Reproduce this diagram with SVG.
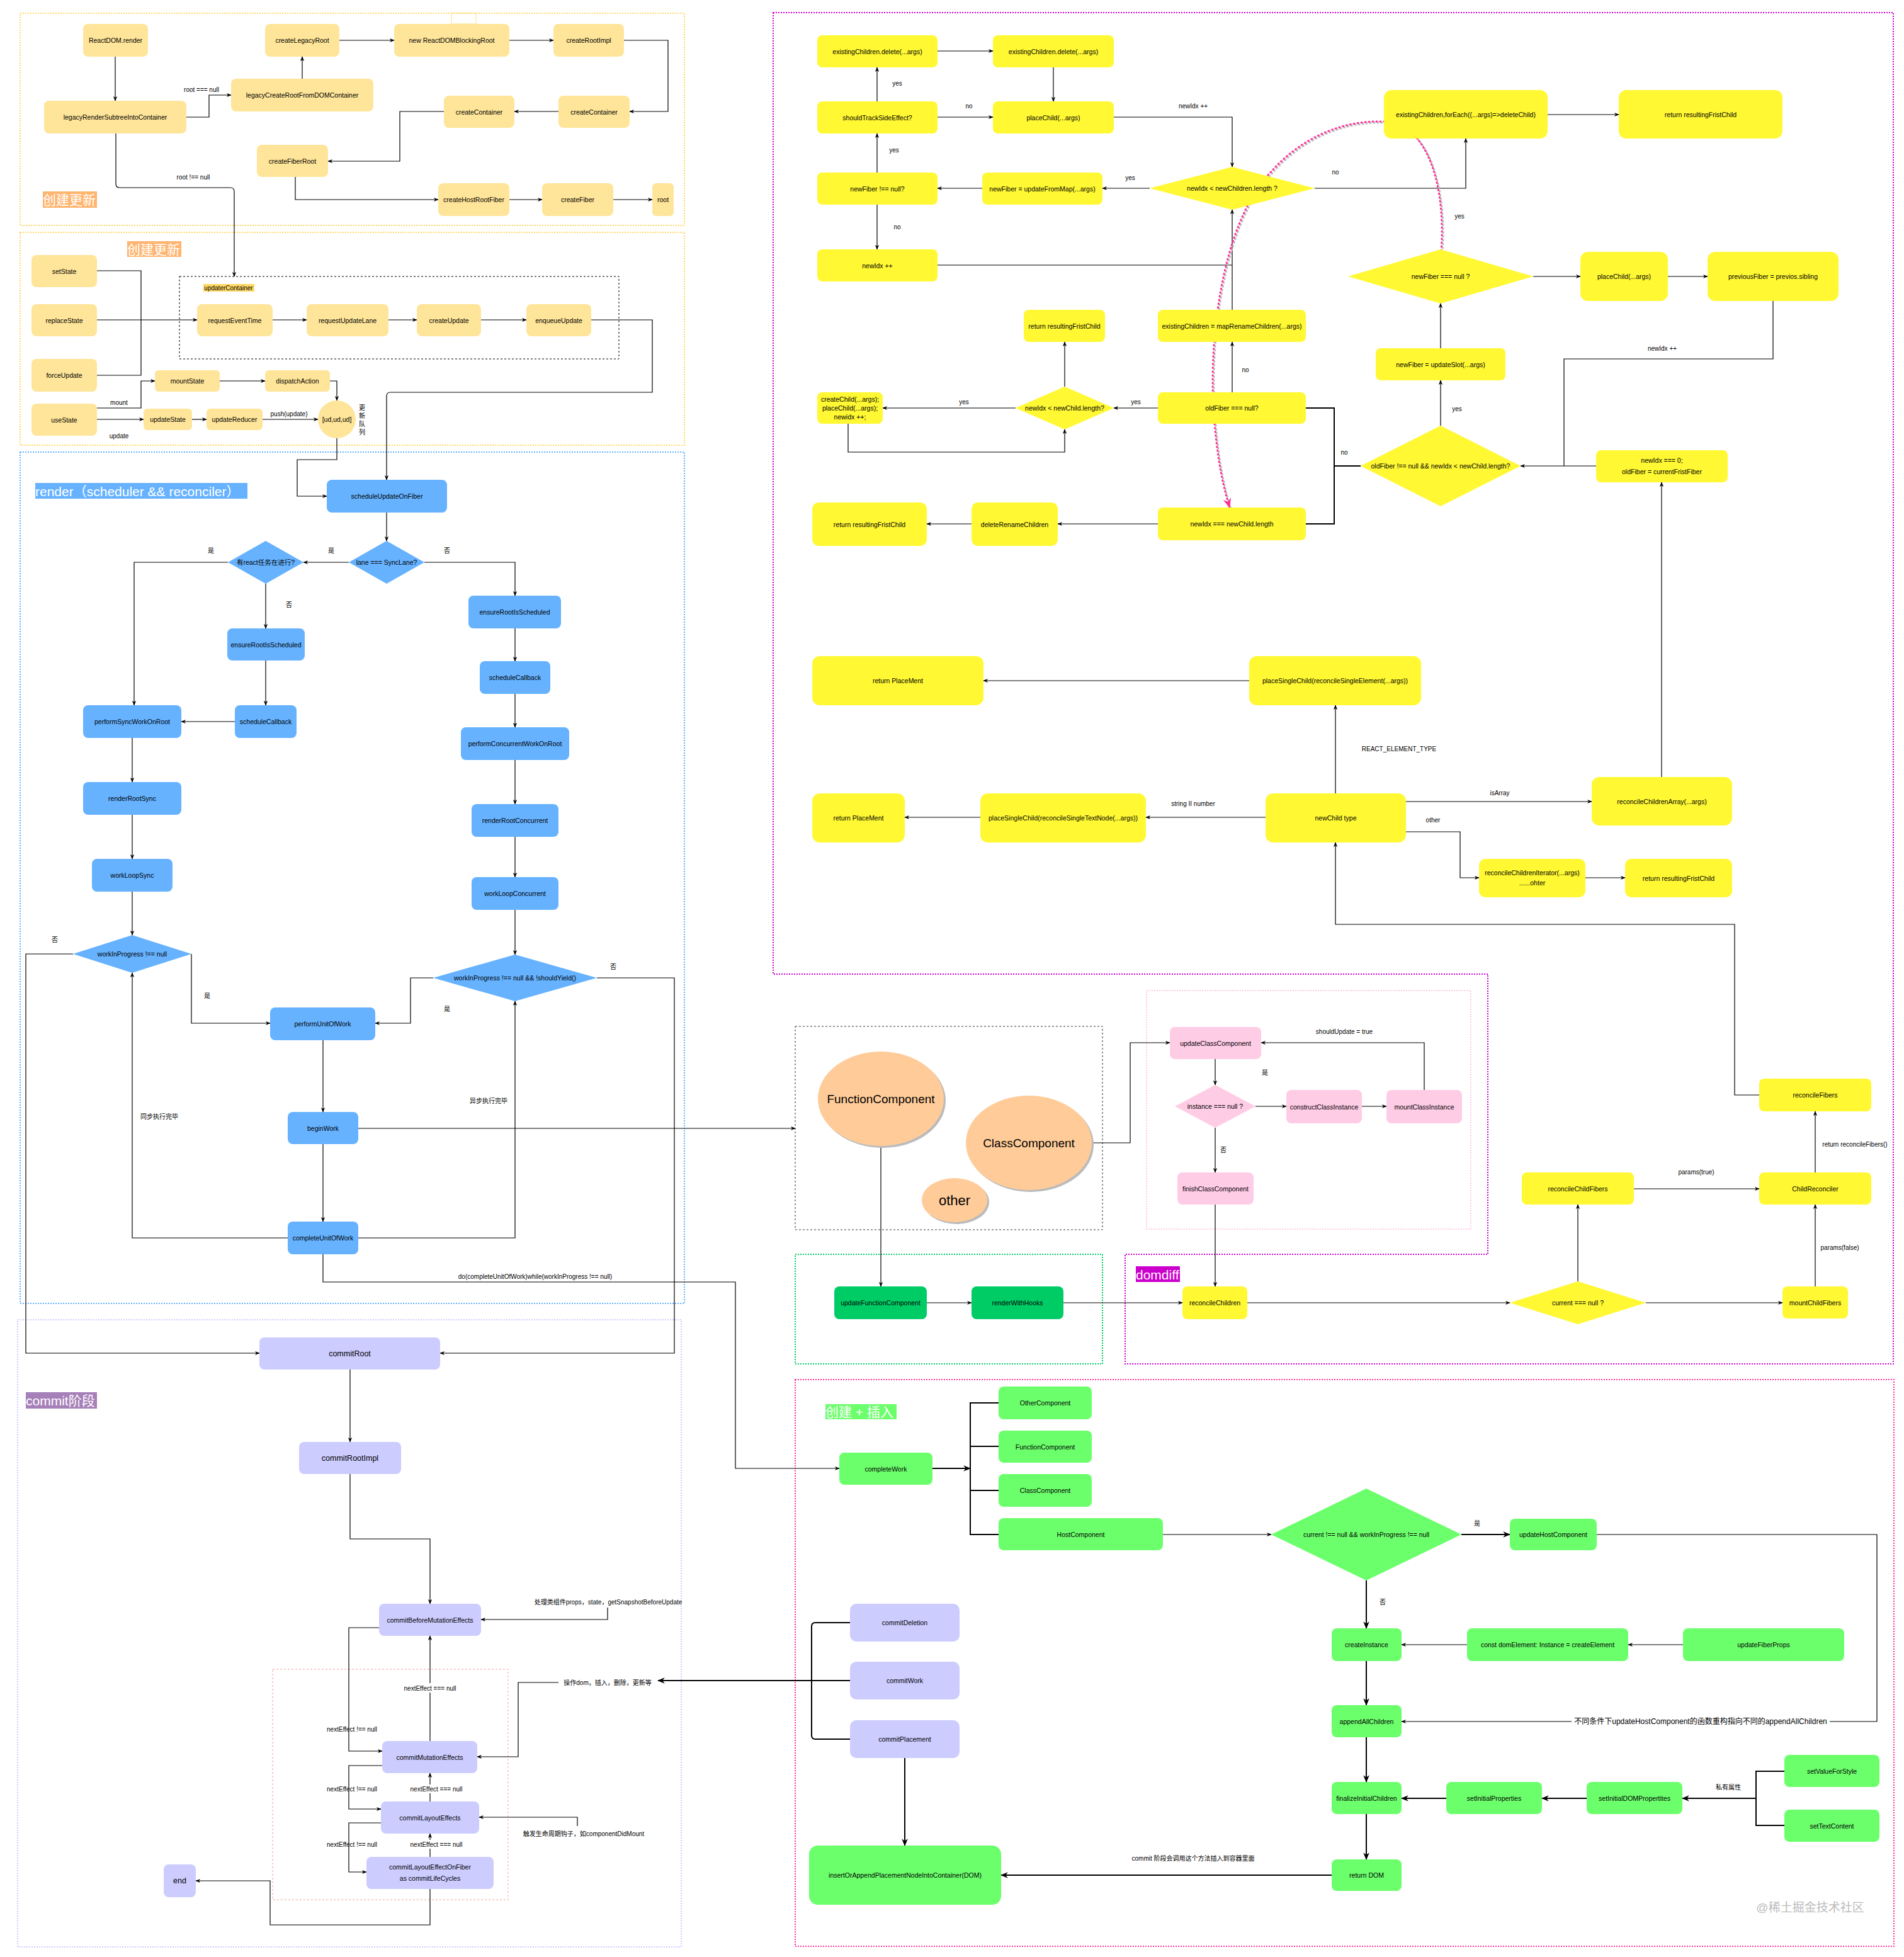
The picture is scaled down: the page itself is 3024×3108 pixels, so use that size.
<svg xmlns="http://www.w3.org/2000/svg" width="3024" height="3108" viewBox="0 0 3024 3108">
<style>
text{font-family:"Liberation Sans","Noto Sans CJK SC",sans-serif;font-size:10.5px;text-anchor:middle;dominant-baseline:central;fill:#000}
.lb{font-size:10px}
.big{font-size:12.5px}
.ttl{font-size:21px;fill:#fff;text-anchor:start}
.c{fill:none;stroke:#000;stroke-width:1.2}
.c2{fill:none;stroke:#000;stroke-width:2}
.y1{fill:#FFE599}
.bl{fill:#66B2FF}
.lv{fill:#CCCCFF}
.yl{fill:#FFF833}
.pk{fill:#FFCCE6}
.gd{fill:#00CC66}
.gl{fill:#6CFF6C}
.or{fill:#FFCC99}
.sh{fill:#BBBBBB}
.box{fill:none;stroke-width:2;stroke-dasharray:2 2}
.wb{fill:#fff}
</style>
<defs>
<marker id="ar" viewBox="0 0 10 10" refX="9" refY="5" markerWidth="8" markerHeight="8" markerUnits="userSpaceOnUse" orient="auto"><path d="M0,1 L10,5 L0,9 L3,5 z" fill="#000"/></marker>
<marker id="ar2" viewBox="0 0 10 10" refX="9" refY="5" markerWidth="12" markerHeight="12" markerUnits="userSpaceOnUse" orient="auto"><path d="M0,1 L10,5 L0,9 L3,5 z" fill="#000"/></marker>
<marker id="arp" viewBox="0 0 10 10" refX="9" refY="5" markerWidth="16" markerHeight="16" markerUnits="userSpaceOnUse" orient="auto"><path d="M0,1 L10,5 L0,9 L3,5 z" fill="#FF3399"/></marker>
</defs>
<rect width="3024" height="3108" fill="#fff"/>

<!-- containers -->
<g id="containers">
<rect class="box" x="32" y="21" width="1055" height="337" stroke="#FFD966"/>
<rect x="717" y="21" width="39" height="17" fill="none" stroke="#FFD966" stroke-width="0.8"/>
<rect class="box" x="32" y="369" width="1055" height="338" stroke="#FFD966"/>
<rect x="285" y="439" width="698" height="131" fill="none" stroke="#000" stroke-width="1" stroke-dasharray="3 3"/>
<rect class="box" x="32" y="718" width="1055" height="1352" stroke="#66B2FF"/>
<rect class="box" x="28" y="2096" width="1054" height="996" stroke="#CCCCFF"/>
<rect x="433" y="2651" width="374" height="366" fill="none" stroke="#F19C99" stroke-width="1" stroke-dasharray="3 3"/>
<path d="M1228,20 H3007 V2166 H1787 V1992 H2363 V1547 H1228 Z" class="box" stroke="#CC00CC" stroke-width="2.5"/>
<rect x="1263" y="1630" width="488" height="323" fill="none" stroke="#333" stroke-width="1" stroke-dasharray="3 3"/>
<rect x="1821" y="1573" width="515" height="379" fill="none" stroke="#FFCCE6" stroke-width="2" stroke-dasharray="2 2"/>
<rect class="box" x="1263" y="1992" width="488" height="174" stroke="#00CC66"/>
<rect class="box" x="1263" y="2191" width="1745" height="900" stroke="#FF3399"/>
</g>

<g id="titles">
<rect x="68" y="304" width="86" height="26" fill="#FFB570"/><text class="ttl" x="68" y="317">创建更新</text>
<rect x="202" y="383" width="86" height="25" fill="#FFB570"/><text class="ttl" x="202" y="396">创建更新</text>
<rect x="56" y="767" width="337" height="25" fill="#66B2FF"/><text class="ttl" x="56" y="780">render（scheduler &amp;&amp; reconciler）</text>
<rect x="41" y="2211" width="113" height="26" fill="#A680B8"/><text class="ttl" x="41" y="2224">commit阶段</text>
<rect x="1804" y="2011" width="70" height="25" fill="#CC00CC"/><text class="ttl" x="1804" y="2024">domdiff</text>
<rect x="1311" y="2230" width="113" height="24" fill="#6CFF6C"/><text class="ttl" x="1311" y="2242">创建 + 插入</text>
<rect x="323" y="451" width="81" height="12" fill="#FFD966"/><text x="363" y="457" class="lb">updaterContainer</text>
</g>

<!-- connectors -->
<g id="connectors">
<path class="c" marker-end="url(#ar)" d="M183,90 V160"/>
<path class="c" marker-end="url(#ar)" d="M296,186 H332 V151 H367"/>
<path class="c" marker-end="url(#ar)" d="M480,125 V90"/>
<path class="c" marker-end="url(#ar)" d="M539,64 H626"/>
<path class="c" marker-end="url(#ar)" d="M809,64 H879"/>
<path class="c" marker-end="url(#ar)" d="M991,64 H1061 V177 H1000"/>
<path class="c" marker-end="url(#ar)" d="M887,177 H817"/>
<path class="c" marker-end="url(#ar)" d="M705,177 H635 V256 H521"/>
<path class="c" marker-end="url(#ar)" d="M469,281 V317 H696"/>
<path class="c" marker-end="url(#ar)" d="M809,317 H861"/>
<path class="c" marker-end="url(#ar)" d="M974,317 H1036"/>
<path class="c" marker-end="url(#ar)" d="M184,212 V292 Q184,298 190,298 H366 Q372,298 372,304 V439"/>
<path class="c" d="M154,430 H224 V596 H154"/>
<path class="c" marker-end="url(#ar)" d="M154,508 H313"/>
<path class="c" marker-end="url(#ar)" d="M433,508 H487"/>
<path class="c" marker-end="url(#ar)" d="M617,508 H662"/>
<path class="c" marker-end="url(#ar)" d="M764,508 H836"/>
<path class="c" marker-end="url(#ar)" d="M939,508 H1036 V623 H620 Q614,623 614,629 V762"/>
<path class="c" marker-end="url(#ar)" d="M154,648 H224 V605 H246"/>
<path class="c" marker-end="url(#ar)" d="M154,666 H228"/>
<path class="c" marker-end="url(#ar)" d="M349,605 H421"/>
<path class="c" marker-end="url(#ar)" d="M524,605 H535 V636"/>
<path class="c" marker-end="url(#ar)" d="M305,666 H328"/>
<path class="c" marker-end="url(#ar)" d="M417,666 H505"/>
<path class="c" marker-end="url(#ar)" d="M535,696 V730 H472 V788 H519"/>
<path class="c" marker-end="url(#ar)" d="M614,814 V859"/>
<path class="c" marker-end="url(#ar)" d="M554,893 H482"/>
<path class="c" marker-end="url(#ar)" d="M362,893 H213 V1120"/>
<path class="c" marker-end="url(#ar)" d="M422,927 V998"/>
<path class="c" marker-end="url(#ar)" d="M422,1049 V1120"/>
<path class="c" marker-end="url(#ar)" d="M373,1146 H288"/>
<path class="c" marker-end="url(#ar)" d="M210,1172 V1242"/>
<path class="c" marker-end="url(#ar)" d="M210,1294 V1364"/>
<path class="c" marker-end="url(#ar)" d="M210,1416 V1485"/>
<path class="c" marker-end="url(#ar)" d="M674,893 H818 V946"/>
<path class="c" marker-end="url(#ar)" d="M818,998 V1050"/>
<path class="c" marker-end="url(#ar)" d="M818,1102 V1155"/>
<path class="c" marker-end="url(#ar)" d="M818,1207 V1277"/>
<path class="c" marker-end="url(#ar)" d="M818,1329 V1393"/>
<path class="c" marker-end="url(#ar)" d="M818,1445 V1516"/>
<path class="c" marker-end="url(#ar)" d="M304,1515 V1625 H429"/>
<path class="c" marker-end="url(#ar)" d="M688,1553 H652 V1625 H596"/>
<path class="c" marker-end="url(#ar)" d="M513,1652 V1766"/>
<path class="c" marker-end="url(#ar)" d="M513,1817 V1940"/>
<path class="c" marker-end="url(#ar)" d="M457,1966 H210 V1545"/>
<path class="c" marker-end="url(#ar)" d="M569,1966 H818 V1590"/>
<path class="c" marker-end="url(#ar)" d="M116,1515 H41 V2149 H412"/>
<path class="c" marker-end="url(#ar)" d="M948,1553 H1071 V2149 H699"/>
<path class="c" marker-end="url(#ar)" d="M569,1792 H1263"/>
<path class="c" marker-end="url(#ar)" d="M513,1992 V2036 H1168 V2332 H1333"/>
<path class="c" marker-end="url(#ar)" d="M556,2175 V2290"/>
<path class="c" marker-end="url(#ar)" d="M556,2341 V2444 H683 V2547"/>
<path class="c" marker-end="url(#ar)" d="M683,2765 V2598"/>
<path class="c" marker-end="url(#ar)" d="M602,2585 H554 V2781 H607"/>
<path class="c" marker-end="url(#ar)" d="M607,2804 H554 V2873 H605"/>
<path class="c" marker-end="url(#ar)" d="M683,2861 V2816"/>
<path class="c" marker-end="url(#ar)" d="M605,2895 H554 V2973 H582"/>
<path class="c" marker-end="url(#ar)" d="M683,2949 V2912"/>
<path class="c" marker-end="url(#ar)" d="M683,3000 V3057 H429 V2987 H311"/>
<path class="c" marker-end="url(#ar)" d="M965,2553 V2572 H764"/>
<path class="c" marker-end="url(#ar)" d="M887,2672 H823 V2790 H758"/>
<path class="c" marker-end="url(#ar)" d="M917,2900 V2886 H761"/>
<path class="c2" marker-end="url(#ar2)" d="M1350,2669 H1045"/>
<path class="c2" d="M1350,2577 H1295 Q1289,2577 1289,2583 V2756 Q1289,2762 1295,2762 H1350"/>
<path class="c2" marker-end="url(#ar2)" d="M1437,2792 V2931"/>

<path class="c" marker-end="url(#ar)" d="M1393,161 V107"/>
<path class="c" marker-end="url(#ar)" d="M1489,81 H1577"/>
<path class="c" marker-end="url(#ar)" d="M1673,107 V161"/>
<path class="c" marker-end="url(#ar)" d="M1489,186 H1577"/>
<path class="c" marker-end="url(#ar)" d="M1769,186 H1957 V265"/>
<path class="c" marker-end="url(#ar)" d="M1826,299 H1751"/>
<path class="c" marker-end="url(#ar)" d="M1560,299 H1489"/>
<path class="c" marker-end="url(#ar)" d="M1393,274 V212"/>
<path class="c" marker-end="url(#ar)" d="M1393,325 V396"/>
<path class="c" d="M1489,421 H1957"/>
<path class="c" marker-end="url(#ar)" d="M1957,492 V333"/>
<path class="c" marker-end="url(#ar)" d="M1957,623 V543"/>
<path class="c" marker-end="url(#ar)" d="M1839,648 H1769"/>
<path class="c" marker-end="url(#ar)" d="M1613,648 H1402"/>
<path class="c" marker-end="url(#ar)" d="M1347,673 V718 H1691 V682"/>
<path class="c" marker-end="url(#ar)" d="M1691,614 V543"/>
<path class="c" marker-end="url(#ar)" d="M1839,832 H1680"/>
<path class="c" marker-end="url(#ar)" d="M1543,832 H1472"/>
<path class="c2" d="M2074,648 H2119 V832 H2074 M2119,740 H2161"/>
<path class="c" marker-end="url(#ar)" d="M2088,299 H2328 V220"/>
<path class="c" marker-end="url(#ar)" d="M2458,182 H2571"/>
<path class="c" marker-end="url(#ar)" d="M2435,439 H2510"/>
<path class="c" marker-end="url(#ar)" d="M2649,439 H2712"/>
<path class="c" d="M2816,478 V570 H2484 V740"/>
<path class="c" marker-end="url(#ar)" d="M2535,740 H2415"/>
<path class="c" marker-end="url(#ar)" d="M2288,553 V482"/>
<path class="c" marker-end="url(#ar)" d="M2288,676 V604"/>
<path class="c" marker-end="url(#ar)" d="M2639,1234 V766"/>
<path d="M2291,400 C2298,302 2272,197 2199,195 C2112,192 2032,242 1987,322 C1937,412 1922,562 1930,662 C1936,742 1947,782 1955,808" fill="none" stroke="#BBBBBB" stroke-width="3" stroke-dasharray="1 5" stroke-linecap="round"/>
<path d="M2289,398 C2296,300 2270,195 2197,193 C2110,190 2030,240 1985,320 C1935,410 1920,560 1928,660 C1934,740 1945,780 1953,806" fill="none" stroke="#FF3399" stroke-width="3" stroke-dasharray="1 5" stroke-linecap="round" marker-end="url(#arp)"/>

<path class="c" marker-end="url(#ar)" d="M1984,1081 H1562"/>
<path class="c" marker-end="url(#ar)" d="M2121,1260 V1120"/>
<path class="c" marker-end="url(#ar)" d="M2010,1298 H1820"/>
<path class="c" marker-end="url(#ar)" d="M1557,1298 H1437"/>
<path class="c" marker-end="url(#ar)" d="M2233,1273 H2528"/>
<path class="c" marker-end="url(#ar)" d="M2233,1321 H2319 V1394 H2349"/>
<path class="c" marker-end="url(#ar)" d="M2518,1394 H2581"/>
<path class="c" marker-end="url(#ar)" d="M2794,1739 H2755 V1468 H2121 V1338"/>

<path class="c" marker-end="url(#ar)" d="M1734,1815 H1795 V1656 H1858"/>
<path class="c" marker-end="url(#ar)" d="M1930,1682 V1723"/>
<path class="c" marker-end="url(#ar)" d="M1994,1757 H2043"/>
<path class="c" marker-end="url(#ar)" d="M2163,1757 H2202"/>
<path class="c" marker-end="url(#ar)" d="M2262,1731 V1656 H2003"/>
<path class="c" marker-end="url(#ar)" d="M1930,1791 V1862"/>
<path class="c" marker-end="url(#ar)" d="M1930,1913 V2043"/>
<path class="c" marker-end="url(#ar)" d="M1399,1820 V2043"/>
<path class="c" marker-end="url(#ar)" d="M1472,2069 H1543"/>
<path class="c" marker-end="url(#ar)" d="M1689,2069 H1878"/>
<path class="c" marker-end="url(#ar)" d="M1981,2069 H2398"/>
<path class="c" marker-end="url(#ar)" d="M2614,2069 H2831"/>
<path class="c" marker-end="url(#ar)" d="M2506,2035 V1913"/>
<path class="c" marker-end="url(#ar)" d="M2595,1888 H2794"/>
<path class="c" marker-end="url(#ar)" d="M2883,2043 V1913"/>
<path class="c" marker-end="url(#ar)" d="M2883,1862 V1765"/>

<path class="c2" marker-end="url(#ar2)" d="M1481,2332 H1541"/>
<path class="c2" d="M1586,2228 H1541 V2437 H1586 M1541,2297 H1586 M1541,2367 H1586"/>
<path class="c" marker-end="url(#ar)" d="M1847,2437 H2019"/>
<path class="c2" marker-end="url(#ar2)" d="M2321,2437 H2398"/>
<path class="c2" marker-end="url(#ar2)" d="M2170,2510 V2586"/>
<path class="c" marker-end="url(#ar)" d="M2330,2612 H2226"/>
<path class="c" marker-end="url(#ar)" d="M2673,2612 H2586"/>
<path class="c" marker-end="url(#ar)" d="M2536,2437 H2981 V2734 H2226"/>
<path class="c2" marker-end="url(#ar2)" d="M2170,2638 V2708"/>
<path class="c2" marker-end="url(#ar2)" d="M2170,2759 V2830"/>
<path class="c2" marker-end="url(#ar2)" d="M2170,2881 V2953"/>
<path class="c2" marker-end="url(#ar2)" d="M2297,2856 H2226"/>
<path class="c2" marker-end="url(#ar2)" d="M2520,2856 H2449"/>
<path class="c2" d="M2834,2813 H2789 V2899 H2834"/>
<path class="c2" marker-end="url(#ar2)" d="M2789,2856 H2672"/>
<path class="c2" marker-end="url(#ar2)" d="M2115,2978 H1590"/>
</g>

<g id="edge-labels">
<text class="lb" x="320" y="142">root === null</text>
<text class="lb" x="307" y="281">root !== null</text>
<text class="lb" x="189" y="639">mount</text>
<text class="lb" x="189" y="692">update</text>
<text class="lb" x="459" y="657">push(update)</text>
<text class="lb" x="575" y="647">更</text><text class="lb" x="575" y="660">新</text><text class="lb" x="575" y="673">队</text><text class="lb" x="575" y="686">列</text>
<text class="lb" x="335" y="874">是</text>
<text class="lb" x="526" y="874">是</text>
<text class="lb" x="710" y="874">否</text>
<text class="lb" x="459" y="960">否</text>
<text class="lb" x="87" y="1492">否</text>
<text class="lb" x="329" y="1581">是</text>
<text class="lb" x="710" y="1602">是</text>
<text class="lb" x="974" y="1535">否</text>
<text class="lb" x="253" y="1773">同步执行完毕</text>
<text class="lb" x="776" y="1748">异步执行完毕</text>
<text class="lb" x="850" y="2027">do(completeUnitOfWork)while(workInProgress !== null)</text>
<rect class="wb" x="640" y="2673" width="86" height="15"/><text class="lb" x="683" y="2681">nextEffect === null</text>
<text class="lb" x="559" y="2746">nextEffect !== null</text>
<text class="lb" x="559" y="2841">nextEffect !== null</text>
<rect class="wb" x="650" y="2834" width="86" height="14"/><text class="lb" x="693" y="2841">nextEffect === null</text>
<text class="lb" x="559" y="2929">nextEffect !== null</text>
<rect class="wb" x="650" y="2922" width="86" height="14"/><text class="lb" x="693" y="2929">nextEffect === null</text>
<text class="lb" x="966" y="2544">处理类组件props，state，getSnapshotBeforeUpdate</text>
<text class="lb" x="965" y="2672">操作dom，插入，删除，更新等</text>
<text class="lb" x="927" y="2912">触发生命周期钩子，如componentDidMount</text>
<text class="lb" x="1425" y="132">yes</text>
<text class="lb" x="1539" y="168">no</text>
<text class="lb" x="1895" y="168">newIdx ++</text>
<text class="lb" x="1420" y="238">yes</text>
<text class="lb" x="1795" y="282">yes</text>
<text class="lb" x="2121" y="273">no</text>
<text class="lb" x="1425" y="360">no</text>
<text class="lb" x="1978" y="587">no</text>
<text class="lb" x="1531" y="638">yes</text>
<text class="lb" x="1804" y="638">yes</text>
<text class="lb" x="2135" y="718">no</text>
<text class="lb" x="2318" y="343">yes</text>
<text class="lb" x="2314" y="649">yes</text>
<text class="lb" x="2640" y="553">newIdx ++</text>
<text class="lb" x="2222" y="1189">REACT_ELEMENT_TYPE</text>
<text class="lb" x="1895" y="1276">string II number</text>
<text class="lb" x="2382" y="1259">isArray</text>
<text class="lb" x="2276" y="1302">other</text>
<text class="lb" x="2135" y="1638">shouldUpdate = true</text>
<text class="lb" x="2009" y="1703">是</text>
<text class="lb" x="1943" y="1826">否</text>
<text class="lb" x="2694" y="1861">params(true)</text>
<text class="lb" x="2922" y="1981">params(false)</text>
<text class="lb" x="2946" y="1817">return reconcileFibers()</text>
<text class="lb" x="2346" y="2419">是</text>
<text class="lb" x="2196" y="2544">否</text>
<text class="lb" x="2745" y="2838">私有属性</text>
<rect class="wb" x="2496" y="2726" width="410" height="16"/><text x="2701" y="2734" style="font-size:12px">不同条件下updateHostComponent的函数重构指向不同的appendAllChildren</text>
<text class="lb" x="1895" y="2951">commit 阶段会调用这个方法插入到容器里面</text>
<text x="2875" y="3029" style="font-size:19px;fill:#BBBBBB">@稀土掘金技术社区</text>
</g>

<!-- section A nodes -->
<g id="n-reactdom-render"><rect class="y1" x="132" y="38" width="103" height="52" rx="8"/><text x="183.5" y="64">ReactDOM.render</text></g>
<g id="n-createLegacyRoot"><rect class="y1" x="421" y="38" width="118" height="52" rx="8"/><text x="480" y="64">createLegacyRoot</text></g>
<g id="n-ReactDOMBlockingRoot"><rect class="y1" x="626" y="38" width="183" height="52" rx="8"/><text x="717.5" y="64">new ReactDOMBlockingRoot</text></g>
<g id="n-createRootImpl"><rect class="y1" x="879" y="38" width="112" height="52" rx="8"/><text x="935" y="64">createRootImpl</text></g>
<g id="n-legacyCreateRoot"><rect class="y1" x="367" y="125" width="226" height="52" rx="8"/><text x="480" y="151">legacyCreateRootFromDOMContainer</text></g>
<g id="n-legacyRender"><rect class="y1" x="70" y="160" width="226" height="52" rx="8"/><text x="183" y="186">legacyRenderSubtreeIntoContainer</text></g>
<g id="n-createContainer-l"><rect class="y1" x="705" y="152" width="112" height="51" rx="8"/><text x="761" y="177.5">createContainer</text></g>
<g id="n-createContainer-r"><rect class="y1" x="887" y="152" width="113" height="51" rx="8"/><text x="943.5" y="177.5">createContainer</text></g>
<g id="n-createFiberRoot"><rect class="y1" x="408" y="230" width="113" height="51" rx="8"/><text x="464.5" y="255.5">createFiberRoot</text></g>
<g id="n-createHostRootFiber"><rect class="y1" x="696" y="291" width="113" height="52" rx="8"/><text x="752.5" y="317">createHostRootFiber</text></g>
<g id="n-createFiber"><rect class="y1" x="861" y="291" width="113" height="52" rx="8"/><text x="917.5" y="317">createFiber</text></g>
<g id="n-root"><rect class="y1" x="1036" y="291" width="34" height="52" rx="6"/><text x="1053" y="317">root</text></g>

<!-- section B nodes -->
<g id="n-setState"><rect class="y1" x="50" y="405" width="104" height="51" rx="8"/><text x="102" y="430.5">setState</text></g>
<g id="n-replaceState"><rect class="y1" x="50" y="483" width="104" height="51" rx="8"/><text x="102" y="508.5">replaceState</text></g>
<g id="n-forceUpdate"><rect class="y1" x="50" y="570" width="104" height="52" rx="8"/><text x="102" y="596">forceUpdate</text></g>
<g id="n-useState"><rect class="y1" x="50" y="641" width="104" height="51" rx="8"/><text x="102" y="666.5">useState</text></g>
<g id="n-requestEventTime"><rect class="y1" x="313" y="483" width="120" height="51" rx="8"/><text x="373" y="508.5">requestEventTime</text></g>
<g id="n-requestUpdateLane"><rect class="y1" x="487" y="483" width="130" height="51" rx="8"/><text x="552" y="508.5">requestUpdateLane</text></g>
<g id="n-createUpdate"><rect class="y1" x="662" y="483" width="102" height="51" rx="8"/><text x="713" y="508.5">createUpdate</text></g>
<g id="n-enqueueUpdate"><rect class="y1" x="836" y="483" width="103" height="51" rx="8"/><text x="887.5" y="508.5">enqueueUpdate</text></g>
<g id="n-mountState"><rect class="y1" x="246" y="588" width="103" height="34" rx="6"/><text x="297.5" y="605">mountState</text></g>
<g id="n-dispatchAction"><rect class="y1" x="421" y="588" width="103" height="34" rx="6"/><text x="472.5" y="605">dispatchAction</text></g>
<g id="n-updateState"><rect class="y1" x="228" y="649" width="77" height="34" rx="6"/><text x="266.5" y="666">updateState</text></g>
<g id="n-updateReducer"><rect class="y1" x="328" y="649" width="89" height="34" rx="6"/><text x="372.5" y="666">updateReducer</text></g>
<g id="n-queue"><ellipse class="y1" cx="535" cy="666" rx="30" ry="30"/><text x="535" y="666">[ud,ud,ud]</text></g>

<!-- render nodes -->
<g id="n-scheduleUpdateOnFiber"><rect class="bl" x="519" y="762" width="191" height="52" rx="8"/><text x="614.5" y="788">scheduleUpdateOnFiber</text></g>
<g id="n-syncLane"><polygon class="bl" points="614,859 674,893 614,927 554,893"/><text x="614" y="893">lane === SyncLane?</text></g>
<g id="n-reactRunning"><polygon class="bl" points="422,859 482,893 422,927 362,893"/><text x="422" y="893">有react任务在进行?</text></g>
<g id="n-ensureRoot-l"><rect class="bl" x="361" y="998" width="123" height="51" rx="8"/><text x="422.5" y="1023.5">ensureRootIsScheduled</text></g>
<g id="n-scheduleCallback-l"><rect class="bl" x="373" y="1120" width="98" height="52" rx="8"/><text x="422" y="1146">scheduleCallback</text></g>
<g id="n-performSync"><rect class="bl" x="132" y="1120" width="156" height="52" rx="8"/><text x="210" y="1146">performSyncWorkOnRoot</text></g>
<g id="n-renderRootSync"><rect class="bl" x="132" y="1242" width="156" height="52" rx="8"/><text x="210" y="1268">renderRootSync</text></g>
<g id="n-workLoopSync"><rect class="bl" x="146" y="1364" width="128" height="52" rx="8"/><text x="210" y="1390">workLoopSync</text></g>
<g id="n-ensureRoot-r"><rect class="bl" x="744" y="946" width="147" height="52" rx="8"/><text x="817.5" y="972">ensureRootIsScheduled</text></g>
<g id="n-scheduleCallback-r"><rect class="bl" x="762" y="1050" width="112" height="52" rx="8"/><text x="818" y="1076">scheduleCallback</text></g>
<g id="n-performConcurrent"><rect class="bl" x="732" y="1155" width="172" height="52" rx="8"/><text x="818" y="1181">performConcurrentWorkOnRoot</text></g>
<g id="n-renderRootConcurrent"><rect class="bl" x="749" y="1277" width="138" height="52" rx="8"/><text x="818" y="1303">renderRootConcurrent</text></g>
<g id="n-workLoopConcurrent"><rect class="bl" x="749" y="1393" width="138" height="52" rx="8"/><text x="818" y="1419">workLoopConcurrent</text></g>
<g id="n-wipSync"><polygon class="bl" points="210,1485 304,1515 210,1545 116,1515"/><text x="210" y="1515">workInProgress !== null</text></g>
<g id="n-wipConcurrent"><polygon class="bl" points="818,1516 948,1553 818,1590 688,1553"/><text x="818" y="1553">workInProgress !== null &amp;&amp; !shouldYield()</text></g>
<g id="n-performUnitOfWork"><rect class="bl" x="429" y="1600" width="167" height="52" rx="8"/><text x="512.5" y="1626">performUnitOfWork</text></g>
<g id="n-beginWork"><rect class="bl" x="457" y="1766" width="112" height="51" rx="8"/><text x="513" y="1791.5">beginWork</text></g>
<g id="n-completeUnitOfWork"><rect class="bl" x="457" y="1940" width="112" height="52" rx="8"/><text x="513" y="1966">completeUnitOfWork</text></g>

<!-- commit nodes -->
<g id="n-commitRoot"><rect class="lv" x="412" y="2124" width="287" height="51" rx="8"/><text class="big" x="555.5" y="2149.5">commitRoot</text></g>
<g id="n-commitRootImpl"><rect class="lv" x="475" y="2290" width="162" height="51" rx="8"/><text class="big" x="556" y="2315.5">commitRootImpl</text></g>
<g id="n-commitBeforeMutation"><rect class="lv" x="602" y="2547" width="162" height="51" rx="8"/><text x="683" y="2572.5">commitBeforeMutationEffects</text></g>
<g id="n-commitMutation"><rect class="lv" x="607" y="2765" width="151" height="51" rx="8"/><text x="682.5" y="2790.5">commitMutationEffects</text></g>
<g id="n-commitLayout"><rect class="lv" x="605" y="2861" width="156" height="51" rx="8"/><text x="683" y="2886.5">commitLayoutEffects</text></g>
<g id="n-commitLayoutOnFiber"><rect class="lv" x="582" y="2949" width="202" height="51" rx="8"/><text x="683" y="2965">commitLayoutEffectOnFiber</text><text x="683" y="2983">as commitLifeCycles</text></g>
<g id="n-end"><rect class="lv" x="260" y="2961" width="51" height="52" rx="8"/><text class="big" x="285.5" y="2987">end</text></g>

<!-- reconcile array nodes -->
<g id="n-delete1"><rect class="yl" x="1298" y="56" width="191" height="51" rx="8"/><text x="1393.5" y="81.5">existingChildren.delete(...args)</text></g>
<g id="n-delete2"><rect class="yl" x="1577" y="56" width="192" height="51" rx="8"/><text x="1673" y="81.5">existingChildren.delete(...args)</text></g>
<g id="n-shouldTrack"><rect class="yl" x="1298" y="161" width="191" height="51" rx="8"/><text x="1393.5" y="186.5">shouldTrackSideEffect?</text></g>
<g id="n-placeChild1"><rect class="yl" x="1577" y="161" width="192" height="51" rx="8"/><text x="1673" y="186.5">placeChild(...args)</text></g>
<g id="n-newFiberNotNull"><rect class="yl" x="1298" y="274" width="191" height="51" rx="8"/><text x="1393.5" y="299.5">newFiber !== null?</text></g>
<g id="n-updateFromMap"><rect class="yl" x="1560" y="274" width="191" height="51" rx="8"/><text x="1655.5" y="299.5">newFiber = updateFromMap(...args)</text></g>
<g id="n-newIdxLtChildren"><polygon class="yl" points="1957,265 2088,299 1957,333 1826,299"/><text x="1957" y="299">newIdx &lt; newChildren.length ?</text></g>
<g id="n-newIdxInc"><rect class="yl" x="1298" y="396" width="191" height="51" rx="8"/><text x="1393.5" y="421.5">newIdx ++</text></g>
<g id="n-return1"><rect class="yl" x="1626" y="492" width="129" height="51" rx="8"/><text x="1690.5" y="517.5">return resultingFristChild</text></g>
<g id="n-mapRename"><rect class="yl" x="1839" y="492" width="235" height="51" rx="8"/><text x="1956.5" y="517.5">existingChildren = mapRenameChildren(...args)</text></g>
<g id="n-createChild"><rect class="yl" x="1298" y="623" width="104" height="50" rx="8"/><text x="1350" y="634">createChild(...args);</text><text x="1350" y="648">placeChild(...args);</text><text x="1350" y="662">newidx ++;</text></g>
<g id="n-newIdxLtChild"><polygon class="yl" points="1691,614 1769,648 1691,682 1613,648"/><text x="1691" y="648">newIdx &lt; newChild.length?</text></g>
<g id="n-oldFiberNull"><rect class="yl" x="1839" y="623" width="235" height="50" rx="8"/><text x="1956.5" y="648">oldFiber === null?</text></g>
<g id="n-return2"><rect class="yl" x="1290" y="798" width="182" height="69" rx="10"/><text x="1381" y="832.5">return resultingFristChild</text></g>
<g id="n-deleteRename"><rect class="yl" x="1543" y="798" width="137" height="69" rx="10"/><text x="1611.5" y="832.5">deleteRenameChildren</text></g>
<g id="n-newIdxEq"><rect class="yl" x="1839" y="806" width="235" height="52" rx="8"/><text x="1956.5" y="832">newIdx === newChild.length</text></g>
<g id="n-forEachDelete"><rect class="yl" x="2198" y="143" width="260" height="77" rx="12"/><text x="2328" y="181.5">existingChildren,forEach((...args)=&gt;deleteChild)</text></g>
<g id="n-return3"><rect class="yl" x="2571" y="143" width="260" height="77" rx="12"/><text x="2701" y="181.5">return resultingFristChild</text></g>
<g id="n-newFiberNull"><polygon class="yl" points="2288,396 2435,439 2288,482 2141,439"/><text x="2288" y="439">newFiber === null ?</text></g>
<g id="n-placeChild2"><rect class="yl" x="2510" y="400" width="139" height="78" rx="12"/><text x="2579.5" y="439">placeChild(...args)</text></g>
<g id="n-previousFiber"><rect class="yl" x="2712" y="400" width="208" height="78" rx="12"/><text x="2816" y="439">previousFiber = previos.sibling</text></g>
<g id="n-updateSlot"><rect class="yl" x="2185" y="553" width="206" height="51" rx="8"/><text x="2288" y="578.5">newFiber = updateSlot(...args)</text></g>
<g id="n-oldFiberNotNull"><polygon class="yl" points="2288,676 2415,740 2288,804 2161,740"/><text x="2288" y="740">oldFiber !== null &amp;&amp; newIdx &lt; newChild.length?</text></g>
<g id="n-newIdxZero"><rect class="yl" x="2535" y="715" width="209" height="51" rx="8"/><text x="2639.5" y="731">newIdx === 0;</text><text x="2639.5" y="749">oldFiber = currentFristFiber</text></g>

<!-- newChild type nodes -->
<g id="n-returnPlacement1"><rect class="yl" x="1290" y="1042" width="272" height="78" rx="12"/><text x="1426" y="1081">return PlaceMent</text></g>
<g id="n-singleElement"><rect class="yl" x="1984" y="1042" width="273" height="78" rx="12"/><text x="2120.5" y="1081">placeSingleChild(reconcileSingleElement(...args))</text></g>
<g id="n-returnPlacement2"><rect class="yl" x="1290" y="1260" width="147" height="78" rx="12"/><text x="1363.5" y="1299">return PlaceMent</text></g>
<g id="n-singleText"><rect class="yl" x="1557" y="1260" width="263" height="78" rx="12"/><text x="1688.5" y="1299">placeSingleChild(reconcileSingleTextNode(...args))</text></g>
<g id="n-newChildType"><rect class="yl" x="2010" y="1260" width="223" height="78" rx="12"/><text x="2121.5" y="1299">newChild type</text></g>
<g id="n-childrenArray"><rect class="yl" x="2528" y="1234" width="223" height="77" rx="12"/><text x="2639.5" y="1272.5">reconcileChildrenArray(...args)</text></g>
<g id="n-childrenIterator"><rect class="yl" x="2349" y="1364" width="169" height="61" rx="10"/><text x="2433.5" y="1386">reconcileChildrenIterator(...args)</text><text x="2433.5" y="1402">......ohter</text></g>
<g id="n-return4"><rect class="yl" x="2581" y="1364" width="170" height="61" rx="10"/><text x="2666" y="1394.5">return  resultingFristChild</text></g>

<!-- component nodes -->
<g id="n-FunctionComponent-c"><ellipse class="sh" cx="1402" cy="1748" rx="100" ry="75"/><ellipse class="or" cx="1399" cy="1745" rx="100" ry="75"/><text x="1399" y="1745" style="font-size:19px">FunctionComponent</text></g>
<g id="n-ClassComponent-c"><ellipse class="sh" cx="1637" cy="1818" rx="100" ry="75"/><ellipse class="or" cx="1634" cy="1815" rx="100" ry="75"/><text x="1634" y="1815" style="font-size:19px">ClassComponent</text></g>
<g id="n-other"><ellipse class="sh" cx="1519" cy="1909" rx="52" ry="35"/><ellipse class="or" cx="1516" cy="1906" rx="52" ry="35"/><text x="1516" y="1906" style="font-size:22px">other</text></g>
<g id="n-updateClassComponent"><rect class="pk" x="1858" y="1631" width="145" height="51" rx="8"/><text x="1930.5" y="1656.5">updateClassComponent</text></g>
<g id="n-instanceNull"><polygon class="pk" points="1930,1723 1994,1757 1930,1791 1866,1757"/><text x="1930" y="1757">instance === null ?</text></g>
<g id="n-constructClassInstance"><rect class="pk" x="2043" y="1731" width="120" height="53" rx="8"/><text x="2103" y="1757.5">constructClassInstance</text></g>
<g id="n-mountClassInstance"><rect class="pk" x="2202" y="1731" width="120" height="53" rx="8"/><text x="2262" y="1757.5">mountClassInstance</text></g>
<g id="n-finishClassComponent"><rect class="pk" x="1870" y="1862" width="121" height="51" rx="8"/><text x="1930.5" y="1887.5">finishClassComponent</text></g>
<g id="n-updateFunctionComponent"><rect class="gd" x="1325" y="2043" width="147" height="52" rx="8"/><text x="1398.5" y="2069">updateFunctionComponent</text></g>
<g id="n-renderWithHooks"><rect class="gd" x="1543" y="2043" width="146" height="52" rx="8"/><text x="1616" y="2069">renderWithHooks</text></g>
<g id="n-reconcileChildren"><rect class="yl" x="1878" y="2043" width="103" height="52" rx="8"/><text x="1929.5" y="2069">reconcileChildren</text></g>
<g id="n-currentNull"><polygon class="yl" points="2506,2035 2614,2069 2506,2103 2398,2069"/><text x="2506" y="2069">current === null ?</text></g>
<g id="n-mountChildFibers"><rect class="yl" x="2831" y="2043" width="104" height="51" rx="8"/><text x="2883" y="2068.5">mountChildFibers</text></g>
<g id="n-reconcileChildFibers"><rect class="yl" x="2417" y="1862" width="178" height="51" rx="8"/><text x="2506" y="1887.5">reconcileChildFibers</text></g>
<g id="n-ChildReconciler"><rect class="yl" x="2794" y="1862" width="178" height="51" rx="8"/><text x="2883" y="1887.5">ChildReconciler</text></g>
<g id="n-reconcileFibers"><rect class="yl" x="2794" y="1713" width="178" height="52" rx="8"/><text x="2883" y="1739">reconcileFibers</text></g>

<!-- create + insert nodes -->
<g id="n-completeWork"><rect class="gl" x="1333" y="2307" width="148" height="51" rx="8"/><text x="1407" y="2332.5">completeWork</text></g>
<g id="n-OtherComponent"><rect class="gl" x="1586" y="2202" width="148" height="52" rx="8"/><text x="1660" y="2228">OtherComponent</text></g>
<g id="n-FunctionComponent"><rect class="gl" x="1586" y="2272" width="148" height="51" rx="8"/><text x="1660" y="2297.5">FunctionComponent</text></g>
<g id="n-ClassComponent"><rect class="gl" x="1586" y="2341" width="148" height="52" rx="8"/><text x="1660" y="2367">ClassComponent</text></g>
<g id="n-HostComponent"><rect class="gl" x="1586" y="2411" width="261" height="51" rx="8"/><text x="1716.5" y="2436.5">HostComponent</text></g>
<g id="n-currentWip"><polygon class="gl" points="2170,2364 2321,2437 2170,2510 2019,2437"/><text x="2170" y="2437">current !== null &amp;&amp; workInProgress !== null</text></g>
<g id="n-updateHostComponent"><rect class="gl" x="2398" y="2412" width="138" height="50" rx="8"/><text x="2467" y="2437">updateHostComponent</text></g>
<g id="n-createInstance"><rect class="gl" x="2115" y="2586" width="111" height="52" rx="8"/><text x="2170.5" y="2612">createInstance</text></g>
<g id="n-createElement"><rect class="gl" x="2330" y="2586" width="256" height="52" rx="8"/><text x="2458" y="2612">const domElement: Instance = createElement</text></g>
<g id="n-updateFiberProps"><rect class="gl" x="2673" y="2586" width="256" height="52" rx="8"/><text x="2801" y="2612">updateFiberProps</text></g>
<g id="n-appendAllChildren"><rect class="gl" x="2115" y="2708" width="111" height="51" rx="8"/><text x="2170.5" y="2733.5">appendAllChildren</text></g>
<g id="n-finalizeInitialChildren"><rect class="gl" x="2115" y="2830" width="111" height="51" rx="8"/><text x="2170.5" y="2855.5">finalizeInitialChildren</text></g>
<g id="n-setInitialProperties"><rect class="gl" x="2297" y="2830" width="152" height="51" rx="8"/><text x="2373" y="2855.5">setInitialProperties</text></g>
<g id="n-setInitialDOMProperties"><rect class="gl" x="2520" y="2830" width="152" height="51" rx="8"/><text x="2596" y="2855.5">setInitialDOMPropertites</text></g>
<g id="n-setValueForStyle"><rect class="gl" x="2834" y="2787" width="151" height="51" rx="8"/><text x="2909.5" y="2812.5">setValueForStyle</text></g>
<g id="n-setTextContent"><rect class="gl" x="2834" y="2874" width="151" height="51" rx="8"/><text x="2909.5" y="2899.5">setTextContent</text></g>
<g id="n-returnDOM"><rect class="gl" x="2115" y="2953" width="111" height="50" rx="8"/><text x="2170.5" y="2978">return DOM</text></g>
<g id="n-commitDeletion"><rect class="lv" x="1350" y="2547" width="174" height="60" rx="10"/><text x="1437" y="2577">commitDeletion</text></g>
<g id="n-commitWork"><rect class="lv" x="1350" y="2639" width="174" height="60" rx="10"/><text x="1437" y="2669">commitWork</text></g>
<g id="n-commitPlacement"><rect class="lv" x="1350" y="2732" width="174" height="60" rx="10"/><text x="1437" y="2762">commitPlacement</text></g>
<g id="n-insertOrAppend"><rect class="gl" x="1285" y="2931" width="305" height="94" rx="14"/><text x="1437.5" y="2978">insertOrAppendPlacementNodeIntoContainer(DOM)</text></g>
</svg>
